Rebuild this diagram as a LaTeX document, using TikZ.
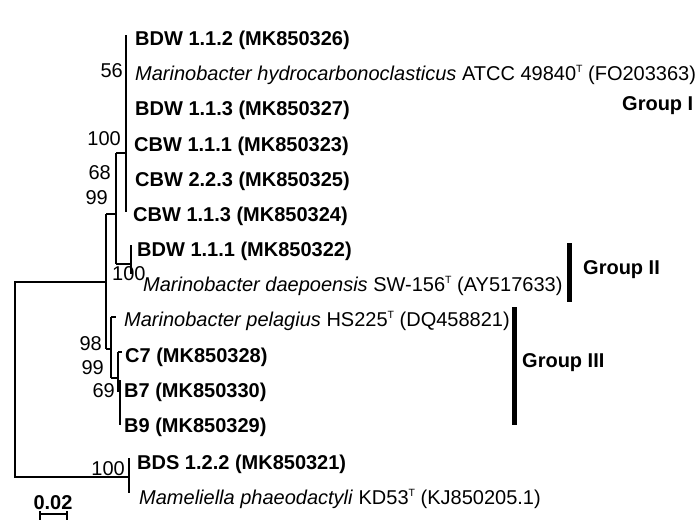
\documentclass[tikz,border=0pt]{standalone}
\usepackage{fontspec}
\setmainfont{Liberation Sans}
\usetikzlibrary{positioning}
\newcommand\fsz{\fontsize{20}{22}\selectfont}
\newcommand\typeT{\raisebox{7.4pt}{\fontsize{10.5}{10.5}\selectfont T}}

\begin{document}
\begin{tikzpicture}[x=1pt,y=-1pt,
  font=\fsz,
  leaf/.style={anchor=base west,inner sep=0pt},
  strain/.style={leaf,font=\fsz\bfseries},
  boot/.style={anchor=base east,inner sep=0pt},
  grp/.style={anchor=base west,inner sep=0pt,font=\fsz\bfseries},
  branch/.style={line width=1.7pt},
  tip/.style={line width=2.8pt},
  gbar/.style={line width=5pt}]
\useasboundingbox (0,0) rectangle (699,520);
% ---- leaves
\node[strain] (l1) at (135,45) {BDW 1.1.2 (MK850326)};
\node[leaf] (l2) at (135,80) {\textit{Marinobacter hydrocarbonoclasticus} ATCC 49840\typeT{} (FO203363)};
\node[strain] (l3) at (135,115) {BDW 1.1.3 (MK850327)};
\node[strain] (l4) at (134,151) {CBW 1.1.1 (MK850323)};
\node[strain] (l5) at (135,186) {CBW 2.2.3 (MK850325)};
\node[strain] (l6) at (133,221) {CBW 1.1.3 (MK850324)};
\node[strain] (l7) at (137,256) {BDW 1.1.1 (MK850322)};
\node[leaf] (l8) at (143,291) {\textit{Marinobacter daepoensis} SW-156\typeT{} (AY517633)};
\node[leaf] (l9) at (124,326) {\textit{Marinobacter pelagius} HS225\typeT{} (DQ458821)};
\node[strain] (l10) at (125,362) {C7 (MK850328)};
\node[strain] (l11) at (124,397) {B7 (MK850330)};
\node[strain] (l12) at (124,432) {B9 (MK850329)};
\node[strain] (l13) at (137,469) {BDS 1.2.2 (MK850321)};
\node[leaf] (l14) at (139,504) {\textit{Mameliella phaeodactyli} KD53\typeT{} (KJ850205.1)};
% ---- tree
\coordinate (root) at (15,282); \coordinate (rootb) at (15,477);
\coordinate (nA) at (106,282); \coordinate (nAt) at (106,214); \coordinate (nAb) at (106,349);
\coordinate (nB) at (116,214); \coordinate (nBt) at (116,153); \coordinate (nBb) at (116,264);
\coordinate (cl) at (126,153); \coordinate (clt) at (126,35); \coordinate (clm) at (126,110); \coordinate (clb) at (126,212);
\coordinate (pr) at (131,264); \coordinate (prt) at (131,245); \coordinate (prb) at (131,274);
\coordinate (nC) at (111,349); \coordinate (nCt) at (111,317); \coordinate (nCb) at (111,378);
\coordinate (nD) at (118,378); \coordinate (nDt) at (118,352); \coordinate (nDb) at (118,392);
\coordinate (nE) at (120,380); \coordinate (nEb) at (120,425);
\coordinate (bd) at (129,477); \coordinate (bdt) at (129,458); \coordinate (bdb) at (129,493);
\draw[branch] (nA) -- (root) -- (rootb) -- (bd);
\draw[branch] (nAt) -- (nAb);
\draw[branch] (nAt) -- (nB);
\draw[branch] (nBt) -- (nBb);
\draw[branch] (nBt) -- (cl);
\draw[tip] (clt) -- (clm);
\draw[branch] (clm) -- (clb);
\draw[branch] (nBb) -- (pr);
\draw[tip] (prt) -- (prb);
\draw[branch] (nAb) -- (nC);
\draw[branch] (nCt) -- (nCb);
\draw[branch] (nCt) -- ++(5,0);
\draw[branch] (nCb) -- (nD);
\draw[branch] (nDt) -- (nDb);
\draw[branch] (nDt) -- ++(4,0);
\draw[tip] (nE) -- (nEb);
\draw[tip] (bdt) -- (bdb);
% ---- bootstrap values
\node[boot] (b56) at (123,77) {56};
\node[boot] (b100a) at (121,145) {100};
\node[boot] (b68) at (111,179) {68};
\node[boot] (b99a) at (108,204) {99};
\node[leaf] (b100b) at (112,280) {100};
\node[boot] (b98) at (102,350) {98};
\node[boot] (b99b) at (104,374) {99};
\node[boot] (b69) at (115,397) {69};
\node[boot] (b100c) at (125,475) {100};
% ---- groups
\node[grp] (g1) at (622,110) {Group I};
\draw[gbar] (569,243) -- (569,302);
\node[grp] (g2) at (583,274) {Group II};
\draw[gbar] (514,307) -- (514,425);
\node[grp] (g3) at (522,367) {Group III};
% ---- scale bar
\node[font=\fsz\bfseries,anchor=base,inner sep=0pt] (sc) at (53,509) {0.02};
\draw[branch] (40,511) -- (40,520) (40,514) -- (67,514) (67,511) -- (67,520);
\end{tikzpicture}
\end{document}
